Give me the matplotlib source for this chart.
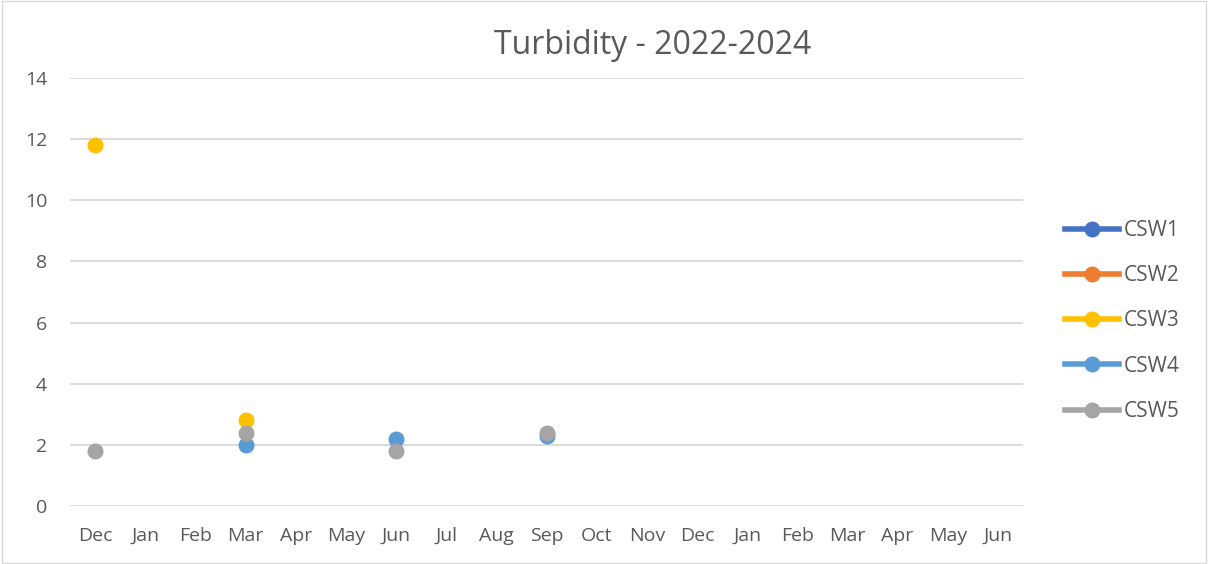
import numpy as np
import matplotlib.pyplot as plt
from matplotlib.lines import Line2D

plt.rcParams['font.family'] = ['Open Sans', 'DejaVu Sans']

months = ["Dec", "Jan", "Feb", "Mar", "Apr", "May", "Jun", "Jul", "Aug", "Sep",
          "Oct", "Nov", "Dec", "Jan", "Feb", "Mar", "Apr", "May", "Jun"]
nan = np.nan
csw1 = [nan] * 19
csw2 = [nan] * 19
csw3 = [11.8, nan, nan, 2.8] + [nan] * 15
csw4 = [nan, nan, nan, 2.0, nan, nan, 2.2, nan, nan, 2.3] + [nan] * 9
csw5 = [1.8, nan, nan, 2.4, nan, nan, 1.8, nan, nan, 2.4] + [nan] * 9

series = {"CSW1": csw1, "CSW2": csw2, "CSW3": csw3, "CSW4": csw4, "CSW5": csw5}
colors = {"CSW1": "#4472C4", "CSW2": "#ED7D31", "CSW3": "#FFC000",
          "CSW4": "#5B9BD5", "CSW5": "#A5A5A5"}

fig = plt.figure(figsize=(12.08, 5.64), dpi=100)
ax = fig.add_axes([70 / 1208, 1 - 506 / 564, (1023 - 70) / 1208, (506 - 78) / 564])

x = np.arange(len(months))
for name, vals in series.items():
    ax.plot(x, vals, linestyle="none", marker="o", ms=10.5, color=colors[name],
            zorder=3)

ax.set_xlim(-0.5, len(months) - 0.5)
ax.set_ylim(0, 14)
ax.set_yticks(range(0, 15, 2))
ax.set_xticks(x)
ax.set_xticklabels(months)
ax.grid(axis="y", color="#d9d9d9", linewidth=1.3)
ax.set_axisbelow(True)
for s in ax.spines.values():
    s.set_visible(False)
ax.tick_params(length=0, labelsize=14, labelcolor="#595959", pad=15)
ax.tick_params(axis="y", pad=16.5)

fig.text(653 / 1208, 1 - 46 / 564, "Turbidity - 2022-2024", ha="center", va="center",
         fontsize=23, color="#595959")

handles = [Line2D([0], [0], color=colors[n], lw=4, marker="o", ms=10.5) for n in series]
leg = fig.legend(handles, list(series.keys()), loc="center left",
                 bbox_to_anchor=(1046 / 1208, 1 - 321 / 564), frameon=False,
                 fontsize=15, handlelength=2.6, labelspacing=1.16, handletextpad=0.25)
for t in leg.get_texts():
    t.set_color("#595959")

fig.patches.append(plt.Rectangle((0.002, 0.002), 0.996, 0.996, transform=fig.transFigure,
                                 fill=False, edgecolor="#d9d9d9", linewidth=1))

fig.savefig("out.png", dpi=100)
